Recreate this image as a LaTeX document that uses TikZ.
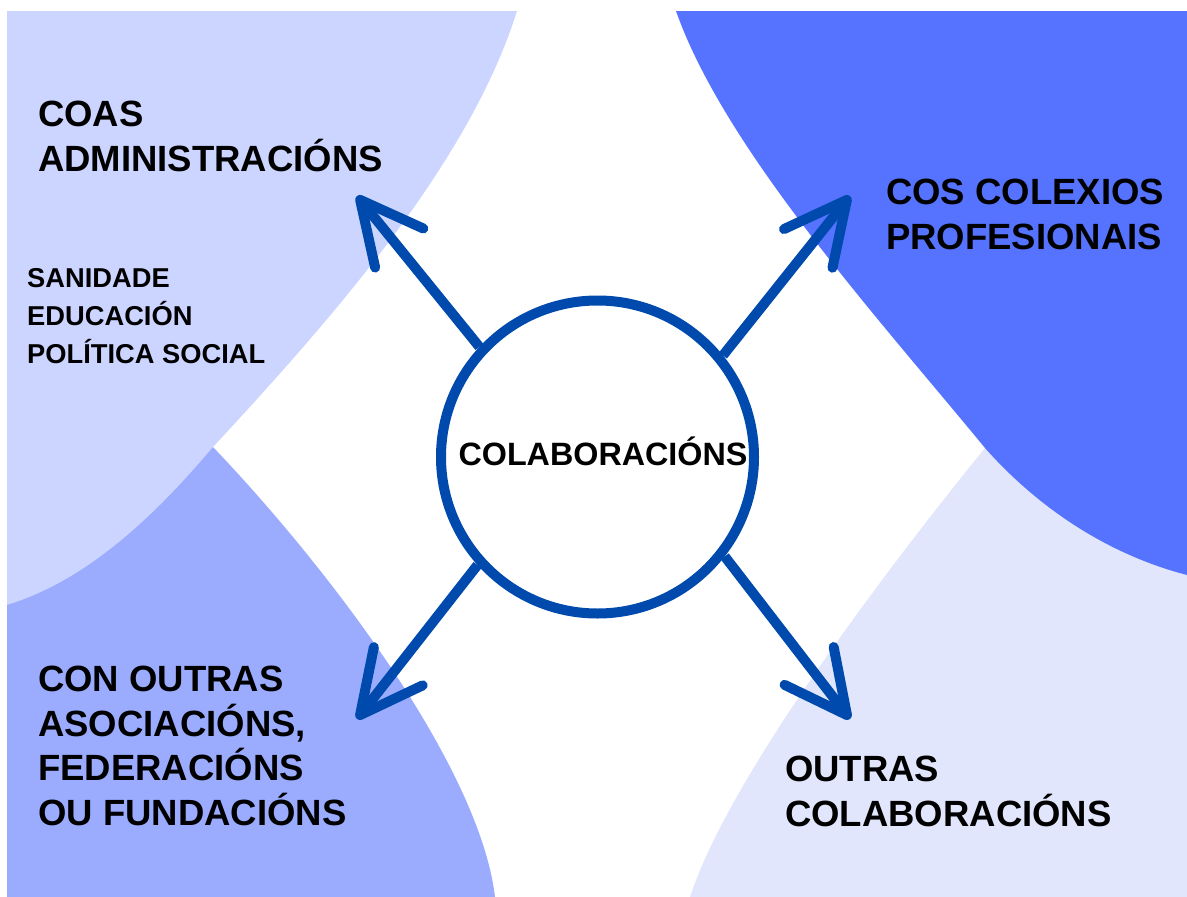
\documentclass[tikz,border=0pt]{standalone}
\usepackage{fontspec}
\setmainfont{Liberation Sans}
\usetikzlibrary{arrows.meta}
\definecolor{paleTL}{HTML}{CCD5FF}
\definecolor{midBL}{HTML}{9BACFF}
\definecolor{darkTR}{HTML}{5573FF}
\definecolor{paleBR}{HTML}{E1E6FD}
\definecolor{arrowblue}{HTML}{004AAD}
\begin{document}
\begin{tikzpicture}[x=1pt,y=-1pt,
  biglabel/.style={font=\bfseries\fontsize{36.5}{44.5}\selectfont, align=left, anchor=base west, inner sep=0pt},
  smalllabel/.style={font=\bfseries\fontsize{27.3}{38}\selectfont, align=left, anchor=base west, inner sep=0pt},
  connector/.style={draw=arrowblue, line width=10pt, line cap=butt, -{Straight Barb[length=62pt,width=62pt,round]}},
  hub/.style={circle, draw=arrowblue, line width=10pt, fill=white, minimum size=313pt, inner sep=0pt,
    font=\bfseries\fontsize{32.3}{36}\selectfont, text height=22pt, text depth=6pt}]
\useasboundingbox (0,0) rectangle (1187,897);
\fill[white] (0,0) rectangle (1187,897);
% background blobs
\fill[paleTL] (7,11) -- (517,11) .. controls (470,160) and (340,310) .. (213,447) -- (7,700) -- cycle;
\fill[midBL] (213,447) .. controls (335,575) and (480,770) .. (495,897) -- (7,897) -- (7,605) .. controls (90,580) and (160,510) .. (213,447) -- cycle;
\fill[paleBR] (985,448) .. controls (890,565) and (730,775) .. (690,897) -- (1187,897) -- (1187,400) -- cycle;
\fill[darkTR] (676,11) .. controls (725,150) and (880,320) .. (985,448) .. controls (1040,510) and (1110,555) .. (1187,575) -- (1187,11) -- cycle;
% hub and connectors
\node[hub] (hub) at (597.5,457) {\hspace*{11pt}COLABORACIÓNS};
\coordinate (tipTL) at (357,196);
\coordinate (tipTR) at (850,196);
\coordinate (tipBL) at (357,719);
\coordinate (tipBR) at (850,719);
\draw[connector] (hub.137.5) -- (tipTL);
\draw[connector] (hub.39) -- (tipTR);
\draw[connector] (hub.222.5) -- (tipBL);
\draw[connector] (hub.322) -- (tipBR);
% labels (anchor = baseline of last line)
\node[biglabel] (coas) at (38,171) {COAS\\ADMINISTRACIÓNS};
\node[smalllabel] (areas) at (27,363) {SANIDADE\\EDUCACIÓN\\POLÍTICA SOCIAL};
\node[biglabel] (colexios) at (886,249) {COS COLEXIOS\\PROFESIONAIS};
\node[biglabel] (asoc) at (38,825) {CON OUTRAS\\ASOCIACIÓNS,\\FEDERACIÓNS\\OU FUNDACIÓNS};
\node[biglabel] (outras) at (785,826) {OUTRAS\\COLABORACIÓNS};
\end{tikzpicture}
\end{document}
